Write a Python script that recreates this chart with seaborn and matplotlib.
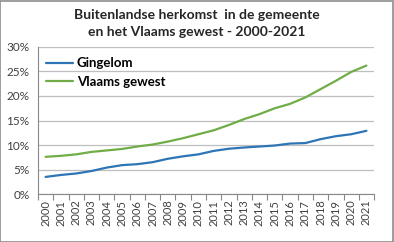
import matplotlib
matplotlib.use("Agg")
import matplotlib.pyplot as plt
import seaborn as sns
import pandas as pd
import numpy as np
from matplotlib.ticker import FixedLocator, PercentFormatter
from matplotlib.patches import Rectangle

years = [str(y) for y in range(2000, 2022)]
gingelom = [3.5, 3.9, 4.2, 4.7, 5.4, 5.9, 6.1, 6.5, 7.2, 7.7, 8.1,
            8.8, 9.25, 9.5, 9.7, 9.9, 10.3, 10.4, 11.2, 11.8, 12.2, 12.9]
vlaams = [7.6, 7.8, 8.1, 8.6, 8.9, 9.2, 9.7, 10.1, 10.7, 11.4, 12.2,
          13.0, 14.1, 15.3, 16.3, 17.5, 18.4, 19.7, 21.4, 23.1, 24.9, 26.2]
series_names = ["Gingelom", "Vlaams gewest"]
title = "Buitenlandse herkomst  in de gemeente\nen het Vlaams gewest - 2000-2021"

df = pd.DataFrame({
    "pos": list(range(len(years))) * 2,
    "val": gingelom + vlaams,
    "serie": [series_names[0]] * len(years) + [series_names[1]] * len(years),
})

sns.set_theme(style="white")
plt.rcParams['font.family'] = ['Lato', 'DejaVu Sans']

fig = plt.figure(figsize=(3.94, 2.42), dpi=100)
ax = fig.add_axes([0.0964, 0.198, 0.853, 0.608])
sns.lineplot(data=df, x="pos", y="val", hue="serie",
             palette=["#2E75B6", "#70AD47"], linewidth=1.6, ax=ax)

ax.set_xlim(-0.5, len(years) - 0.5)
ax.set_ylim(0, 30)
ax.set_yticks(range(0, 31, 5))
ax.yaxis.set_major_formatter(PercentFormatter(decimals=0))
ax.grid(axis="y", color="#BFBFBF", linewidth=0.9)
ax.set_axisbelow(True)

ax.set_xticks(range(len(years)))
ax.set_xticklabels(years, rotation=90)
ax.xaxis.set_minor_locator(FixedLocator(np.arange(-0.5, len(years), 1.0)))
ax.tick_params(axis="x", which="major", length=0, pad=4, labelsize=8, labelcolor="#404040")
ax.tick_params(axis="x", which="minor", length=4, width=0.8, color="#888888", direction="out", bottom=True)
ax.tick_params(axis="y", length=0, labelsize=8.5, labelcolor="#404040", pad=6)

for s in ["top", "right"]:
    ax.spines[s].set_visible(False)
for s in ["left", "bottom"]:
    ax.spines[s].set_color("#888888")
    ax.spines[s].set_linewidth(0.8)

ax.set_xlabel("")
ax.set_ylabel("")
leg = ax.legend(loc="upper left", frameon=False, prop={"weight": "bold", "size": 9.5},
                handlelength=2.0, handletextpad=0.3, bbox_to_anchor=(-0.01, 1.01),
                labelspacing=0.5)
for t in leg.get_texts():
    t.set_color("#000000")

fig.suptitle(title, fontsize=10, fontweight="bold", y=0.962, linespacing=1.45)
fig.add_artist(Rectangle((0.001, 0.002), 0.996, 0.995, transform=fig.transFigure,
                         fill=False, edgecolor="#8C8C8C", linewidth=1.2))

fig.savefig("out.png", dpi=100)
